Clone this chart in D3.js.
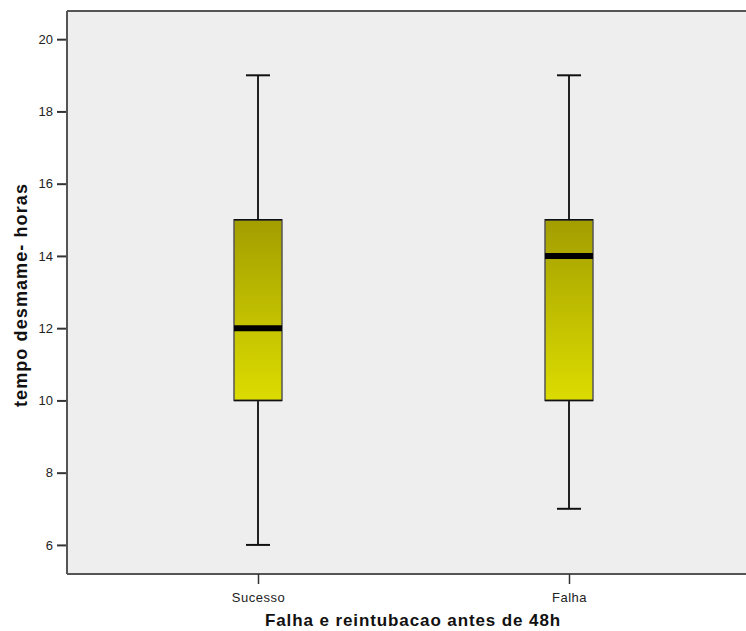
<!DOCTYPE html>
<html><head><meta charset="utf-8">
<script src="https://cdn.jsdelivr.net/npm/d3@7"></script>
<style>body{margin:0;background:#fff;} text{font-family:"Liberation Sans",Arial,sans-serif;}</style>
</head><body><svg id="c" width="746" height="631"></svg>
<script>
const categories = ["Sucesso", "Falha"];
const mins = [6, 7];
const q1s = [10, 10];
const medians = [12, 14];
const q3s = [15, 15];
const maxs = [19, 19];
const yTicks = [6, 8, 10, 12, 14, 16, 18, 20];
const yTitle = "tempo desmame- horas";
const xTitle = "Falha e reintubacao antes de 48h";

const svg = d3.select("#c");
const pL = 67, pT = 11, pR = 746, pB = 574;
const y = d3.scaleLinear().domain([5.195, 20.78]).range([pB, pT]);
const x = d3.scalePoint().domain(categories).range([258, 569]);

const defs = svg.append("defs");
const g = defs.append("linearGradient").attr("id","gr").attr("x1",0).attr("y1",0).attr("x2",0).attr("y2",1);
g.append("stop").attr("offset","0%").attr("stop-color","#a39e00");
g.append("stop").attr("offset","100%").attr("stop-color","#dcdc00");

svg.append("rect").attr("x",pL).attr("y",pT).attr("width",pR-pL).attr("height",pB-pT).attr("fill","#eeeeee");
svg.append("line").attr("x1",pL).attr("x2",pR).attr("y1",pT).attr("y2",pT).attr("stroke","#555").attr("stroke-width",2);
svg.append("line").attr("x1",pL).attr("x2",pR).attr("y1",pB).attr("y2",pB).attr("stroke","#555").attr("stroke-width",2);
svg.append("line").attr("x1",pL).attr("x2",pL).attr("y1",pT).attr("y2",pB).attr("stroke","#555").attr("stroke-width",2);

// y axis
const ya = svg.append("g").attr("transform",`translate(${pL-1},0)`)
  .call(d3.axisLeft(y).tickValues(yTicks).tickSize(9).tickPadding(4).tickFormat(d3.format("d")));
ya.select(".domain").remove();
ya.selectAll("line").attr("stroke","#333").attr("stroke-width",2);
ya.selectAll("text").attr("font-size",13).attr("fill","#222").attr("font-family","Liberation Sans, Arial, sans-serif");

// x axis
const xa = svg.append("g").attr("transform",`translate(0,${pB})`)
  .call(d3.axisBottom(x).tickSize(10).tickPadding(9));
xa.select(".domain").remove();
xa.selectAll("line").attr("stroke","#333").attr("stroke-width",1.5);
xa.selectAll("text").attr("font-size",13).attr("letter-spacing",0.5).attr("fill","#222").attr("font-family","Liberation Sans, Arial, sans-serif");

const bw = 48, cw = 24;
categories.forEach((c,i)=>{
  const cx = x(c);
  const bx = svg.append("g");
  bx.append("line").attr("x1",cx).attr("x2",cx).attr("y1",y(maxs[i])).attr("y2",y(q3s[i])).attr("stroke","#222").attr("stroke-width",2);
  bx.append("line").attr("x1",cx).attr("x2",cx).attr("y1",y(q1s[i])).attr("y2",y(mins[i])).attr("stroke","#222").attr("stroke-width",2);
  bx.append("line").attr("x1",cx-cw/2).attr("x2",cx+cw/2).attr("y1",y(maxs[i])).attr("y2",y(maxs[i])).attr("stroke","#111").attr("stroke-width",2);
  bx.append("line").attr("x1",cx-cw/2).attr("x2",cx+cw/2).attr("y1",y(mins[i])).attr("y2",y(mins[i])).attr("stroke","#111").attr("stroke-width",2);
  bx.append("rect").attr("x",cx-bw/2).attr("y",y(q3s[i])).attr("width",bw).attr("height",y(q1s[i])-y(q3s[i]))
    .attr("fill","url(#gr)").attr("stroke","#555").attr("stroke-width",1.5);
  bx.append("line").attr("x1",cx-bw/2).attr("x2",cx+bw/2).attr("y1",y(q3s[i])).attr("y2",y(q3s[i])).attr("stroke","#111").attr("stroke-width",1.5);
  bx.append("line").attr("x1",cx-bw/2).attr("x2",cx+bw/2).attr("y1",y(q1s[i])).attr("y2",y(q1s[i])).attr("stroke","#111").attr("stroke-width",1.5);
  bx.append("line").attr("x1",cx-bw/2).attr("x2",cx+bw/2).attr("y1",y(medians[i])).attr("y2",y(medians[i])).attr("stroke","#000").attr("stroke-width",6);
});

svg.append("text").attr("x",413).attr("y",626).attr("text-anchor","middle").attr("font-size",17).attr("font-weight","bold")
  .attr("fill","#111").attr("letter-spacing",0.9).text(xTitle);
svg.append("text").attr("transform","translate(27,295) rotate(-90)").attr("text-anchor","middle").attr("font-size",18).attr("font-weight","bold")
  .attr("fill","#111").attr("letter-spacing",1.1).text(yTitle);
</script></body></html>
